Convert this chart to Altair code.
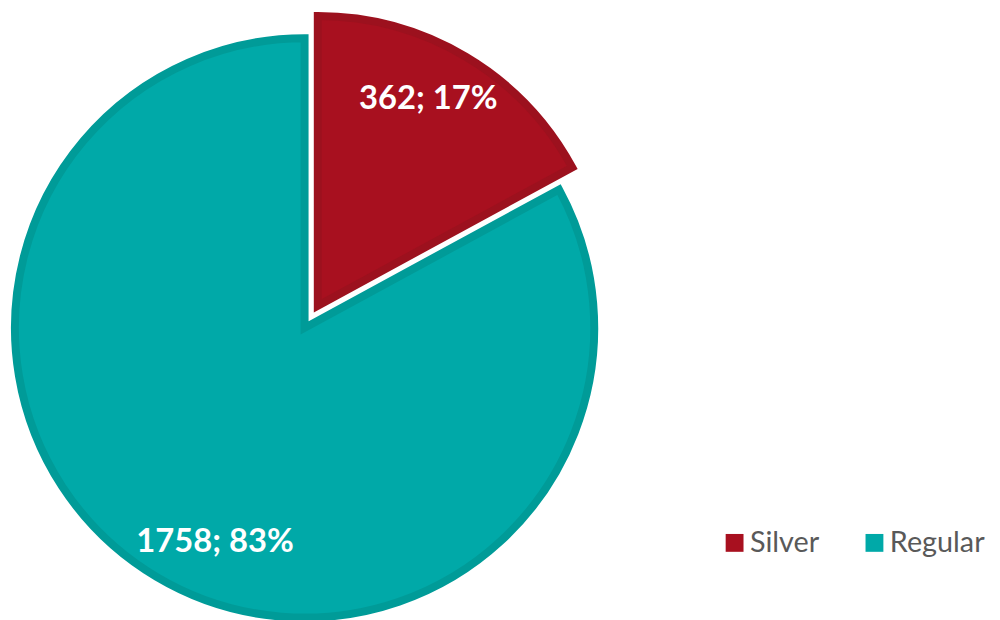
import altair as alt
import pandas as pd

categories = ["Silver", "Regular"]
values = [362, 1758]
fill_colors = ["#A8101F", "#00A9A8"]
stroke_colors = ["#9C111E", "#009B98"]

df = pd.DataFrame({"category": categories, "value": values, "order": [0, 1]})

CX, CY = 299, 320
R = 292
EXPLODE = 26

base = alt.Chart(df).transform_joinaggregate(
    total="sum(value)"
).transform_window(
    cum="sum(value)", sort=[alt.SortField("order")]
).transform_calculate(
    t0="(datum.cum - datum.value) / datum.total * 2 * PI",
    t1="datum.cum / datum.total * 2 * PI",
).transform_calculate(
    mid="(datum.t0 + datum.t1) / 2",
    ex=f"datum.category == 'Silver' ? {EXPLODE} : 0",
).transform_calculate(
    cx=f"{CX} + datum.ex * sin(datum.mid)",
    cy=f"{CY} - datum.ex * cos(datum.mid)",
    lang="datum.mid - (datum.category == 'Silver' ? 0.045 : 0.14)",
    lr="datum.category == 'Silver' ? 236 : 234",
).transform_calculate(
    lx="datum.cx + datum.lr * sin(datum.lang)",
    ly="datum.cy - datum.lr * cos(datum.lang)",
    label="datum.value + '; ' + round(datum.value / datum.total * 100) + '%'",
)

color_scale = alt.Scale(domain=categories, range=fill_colors)

arcs = base.mark_arc(strokeWidth=8, radius=R).encode(
    x=alt.X("cx:Q", scale=None, axis=None),
    y=alt.Y("cy:Q", scale=None, axis=None),
    theta=alt.Theta("t0:Q", scale=None),
    theta2="t1:Q",
    color=alt.Color(
        "category:N",
        scale=color_scale,
        legend=alt.Legend(
            title=None,
            orient="none",
            legendX=718,
            legendY=522,
            padding=0,
            direction="horizontal",
            symbolType="square",
            symbolSize=324,
            symbolStrokeWidth=0,
            symbolOpacity=1,
            labelFontSize=29,
            labelFont="Lato",
            labelColor="#595959",
            labelOffset=1,
            columnPadding=41,
        ),
    ),
    stroke=alt.Stroke("category:N", scale=alt.Scale(domain=categories, range=stroke_colors), legend=None),
)

labels = base.mark_text(
    color="white", fontSize=33, fontWeight="bold", font="Lato", align="center", baseline="middle"
).encode(
    x=alt.X("lx:Q", scale=None, axis=None),
    y=alt.Y("ly:Q", scale=None, axis=None),
    text="label:N",
)

chart = alt.layer(arcs, labels).properties(
    width=992, height=612, autosize=alt.AutoSizeParams(type="none"), padding=0, background="white"
).configure_view(stroke=None, strokeWidth=0)

chart.save("out.html", embed_options={"renderer": "svg", "actions": False})
